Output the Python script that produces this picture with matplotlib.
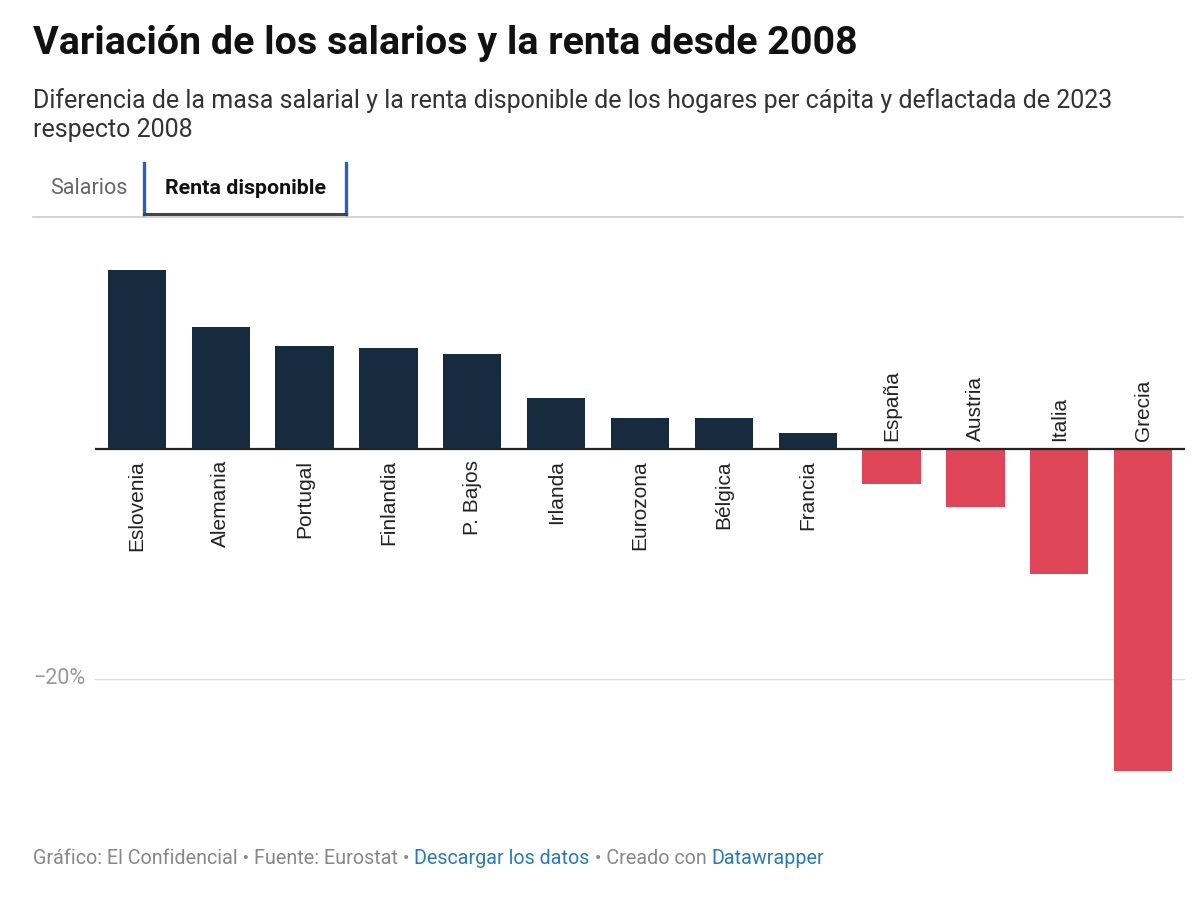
import matplotlib
matplotlib.use("Agg")
import matplotlib.pyplot as plt
from matplotlib.lines import Line2D

plt.rcParams["font.family"] = ["Roboto", "DejaVu Sans"]

countries = ["Eslovenia", "Alemania", "Portugal", "Finlandia", "P. Bajos", "Irlanda",
             "Eurozona", "Bélgica", "Francia", "España", "Austria", "Italia", "Grecia"]
values = [15.6, 10.6, 9.0, 8.8, 8.3, 4.4, 2.7, 2.7, 1.4, -3.0, -5.0, -10.9, -28.0]

W, H = 1200, 898
fig = plt.figure(figsize=(W / 100, H / 100), dpi=100)

# axes placed in pixel coordinates (top=230, bottom=800)
ax_left, ax_right, ax_top, ax_bot = 95, 1185, 230, 800
ax = fig.add_axes([ax_left / W, 1 - ax_bot / H, (ax_right - ax_left) / W, (ax_bot - ax_top) / H])
px_per_pct = 11.5
zero_y = 449
ax.set_ylim(-(ax_bot - zero_y) / px_per_pct, (zero_y - ax_top) / px_per_pct)
ax.set_xlim(-0.5, len(countries) - 0.5)

x = list(range(len(countries)))
colors = ["#172b3f" if v >= 0 else "#df4657" for v in values]
ax.axhline(-20, color="#dddddd", lw=1, zorder=0)
ax.bar(x, values, width=0.695, color=colors, zorder=2)
ax.axhline(0, color="#222222", lw=1.6, zorder=3)

for xi, name, v in zip(x, countries, values):
    if v >= 0:
        ax.annotate(name, (xi, 0), xytext=(0, -8), textcoords="offset points",
                    rotation=90, ha="center", va="top", fontsize=15,
                    family=["Liberation Sans", "DejaVu Sans"], color="#222222")
    else:
        ax.annotate(name, (xi, 0), xytext=(0, 6), textcoords="offset points",
                    rotation=90, ha="center", va="bottom", fontsize=15,
                    family=["Liberation Sans", "DejaVu Sans"], color="#222222")

ax.axis("off")

# -20% label
fig.text(33 / W, 1 - 679 / H, "\u221220%", fontsize=15.5, color="#999999", va="center", ha="left")

# Title / subtitle
fig.text(33 / W, 1 - 43 / H, "Variación de los salarios y la renta desde 2008",
         fontsize=28.4, fontweight="bold", color="#111111", va="center", ha="left")
fig.text(33 / W, 1 - 101 / H,
         "Diferencia de la masa salarial y la renta disponible de los hogares per cápita y deflactada de 2023",
         fontsize=18, color="#333333", va="center", ha="left")
fig.text(33 / W, 1 - 130 / H, "respecto 2008", fontsize=18, color="#333333", va="center", ha="left")

# Tabs
fig.add_artist(Line2D([33 / W, 1183 / W], [1 - 217 / H, 1 - 217 / H], color="#cccccc", lw=1.2))
fig.add_artist(Line2D([144 / W, 144 / W], [1 - 163 / H, 1 - 214 / H], color="#2760c4", lw=2.4))
fig.add_artist(Line2D([346 / W, 346 / W], [1 - 163 / H, 1 - 214 / H], color="#2760c4", lw=2.4))
fig.add_artist(Line2D([144 / W, 346 / W], [1 - 214 / H, 1 - 214 / H], color="#444444", lw=2.2))
fig.text(50 / W, 1 - 188 / H, "Salarios", fontsize=15.5, color="#666666", va="center", ha="left")
fig.text(165 / W, 1 - 188 / H, "Renta disponible", fontsize=15.4, fontweight="bold",
         color="#111111", va="center", ha="left")

# Footer with mixed colours
pieces = [("Gráfico: El Confidencial • Fuente: Eurostat • ", "#888888"),
          ("Descargar los datos", "#2a7ab8"),
          (" • Creado con ", "#888888"),
          ("Datawrapper", "#2a7ab8")]
fig.canvas.draw()
renderer = fig.canvas.get_renderer()
xpos = 33
for txt, col in pieces:
    t = fig.text(xpos / W, 1 - 858 / H, txt, fontsize=14.2, color=col, va="center", ha="left")
    bb = t.get_window_extent(renderer=renderer)
    xpos += bb.width

fig.savefig("out.png", dpi=100)
